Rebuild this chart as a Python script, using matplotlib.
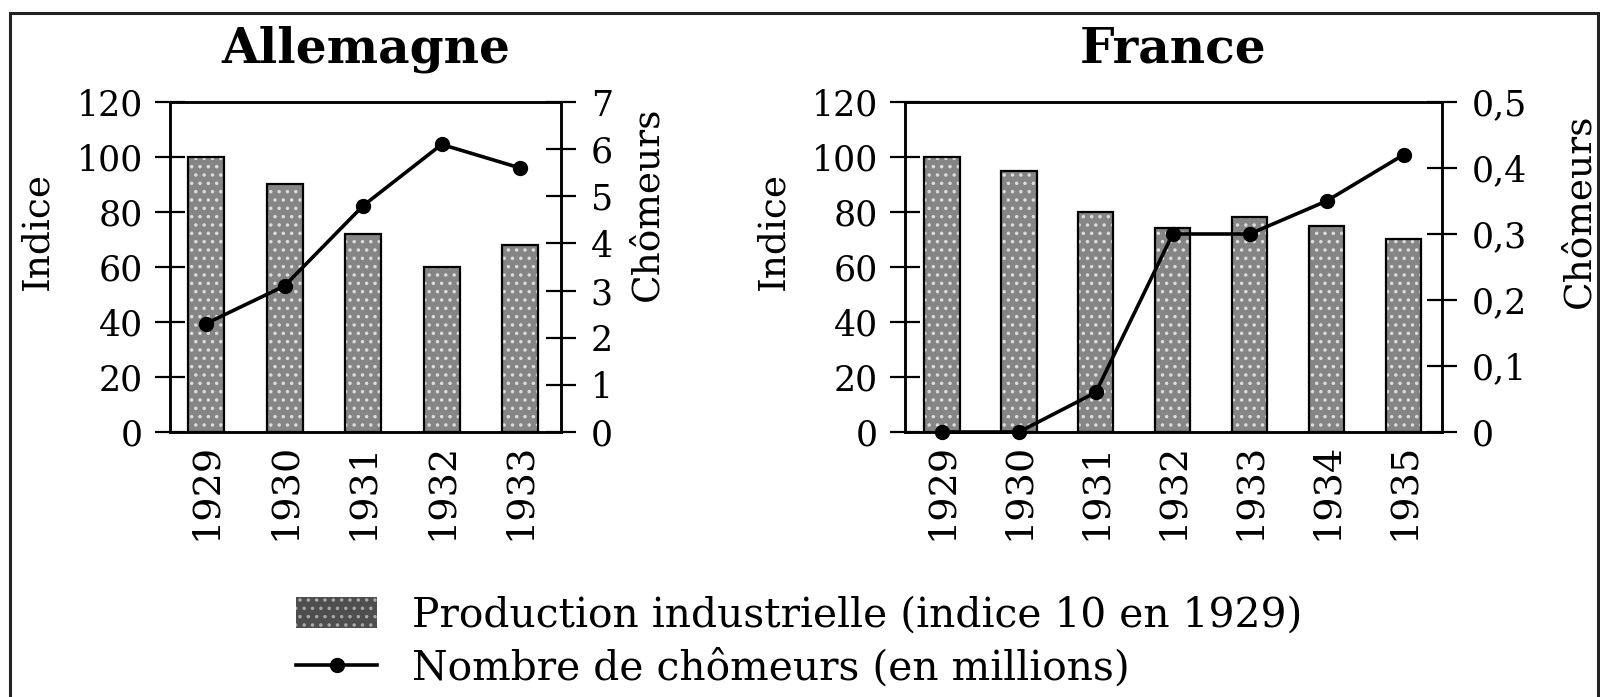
import matplotlib
matplotlib.use("Agg")
import matplotlib.pyplot as plt
from matplotlib.patches import Patch, Rectangle
from matplotlib.lines import Line2D
from matplotlib.ticker import FuncFormatter

# Data
de_years = ["1929", "1930", "1931", "1932", "1933"]
de_production = [100, 90, 72, 60, 68]
de_chomeurs = [2.3, 3.1, 4.8, 6.1, 5.6]

fr_years = ["1929", "1930", "1931", "1932", "1933", "1934", "1935"]
fr_production = [100, 95, 80, 74, 78, 75, 70]
fr_chomeurs = [0.0, 0.0, 0.06, 0.3, 0.3, 0.35, 0.42]

plt.rcParams['font.family'] = ['DejaVu Serif']
plt.rcParams['hatch.linewidth'] = 1.3

W, H = 1600, 697
fig = plt.figure(figsize=(W / 100, H / 100), dpi=100)


def px_axes(x0, x1, y0, y1):
    return [x0 / W, 1 - y1 / H, (x1 - x0) / W, (y1 - y0) / H]


def comma(v, pos):
    if v == 0:
        return "0"
    return ("%.1f" % v).replace(".", ",")


def panel(rect, title, years, prod, chom, ymax2, step2, fmt2, xlim, lab_pos):
    ax = fig.add_axes(rect)
    x = list(range(len(years)))
    # bars: grey fill, light speckle overlay, black outline
    ax.bar(x, prod, width=0.46, color="#858585", linewidth=0, zorder=2)
    ax.bar(x, prod, width=0.46, fill=False, hatch="..", edgecolor="#dcdcdc",
           linewidth=0, zorder=3)
    ax.bar(x, prod, width=0.46, fill=False, edgecolor="black", linewidth=1.6,
           zorder=4)
    ax.set_xlim(*xlim)
    ax.set_ylim(0, 120)
    ax.set_yticks(range(0, 121, 20))
    ax.set_xticks(x)
    ax.set_xticklabels(years, rotation=90, fontsize=27.5)
    ax.tick_params(axis="x", length=0, pad=8)
    ax.tick_params(axis="y", direction="inout", length=21, width=1.6,
                   labelsize=25, pad=9)
    ax.set_ylabel("Indice", fontsize=27)
    ax.yaxis.set_label_coords(lab_pos[0], 0.61)

    ax2 = ax.twinx()
    ax2.plot(x, chom, color="black", lw=2.6, marker="o", markersize=10,
             clip_on=False, zorder=5)
    ax2.set_ylim(0, ymax2)
    n = int(round(ymax2 / step2))
    ax2.set_yticks([i * step2 for i in range(n + 1)])
    ax2.yaxis.set_major_formatter(FuncFormatter(fmt2))
    ax2.tick_params(axis="y", direction="inout", length=21, width=1.6,
                    labelsize=25, pad=11)
    ax2.set_ylabel("Chômeurs", fontsize=27)
    ax2.yaxis.set_label_coords(lab_pos[1], lab_pos[2])

    for a in (ax, ax2):
        for s in a.spines.values():
            s.set_linewidth(1.8)
    ax.text(0.5, 1.16, title, transform=ax.transAxes, ha="center",
            va="center", fontsize=35, fontweight="bold")
    return ax, ax2


panel(px_axes(170, 561, 102, 432), "Allemagne", de_years, de_production,
      de_chomeurs, 7, 1, lambda v, p: "%d" % v, (-0.46, 4.52),
      (-0.294, 1.176, 0.69))
panel(px_axes(905, 1442, 102, 432), "France", fr_years, fr_production,
      fr_chomeurs, 0.5, 0.1, comma, (-0.48, 6.5),
      (-0.212, 1.222, 0.67))

# legend below the panels
handles = [
    Patch(facecolor="#4e4e4e", edgecolor="#a8a8a8", hatch="..", linewidth=0),
    Line2D([0], [0], color="black", lw=2.6, marker="o", markersize=10),
]
labels = ["Production industrielle (indice 10 en 1929)",
          "Nombre de chômeurs (en millions)"]
fig.legend(handles, labels, loc="upper left",
           bbox_to_anchor=(296 / W, 1 - 596 / H), frameon=False,
           fontsize=29.3, handlelength=2.0, handleheight=0.8,
           handletextpad=0.85, labelspacing=0.32, borderpad=0,
           borderaxespad=0)

# outer frame of the figure
fig.patches.append(Rectangle((10 / W, -0.05), (1598 - 10) / W,
                             1.05 - 13 / H, transform=fig.transFigure,
                             fill=False, edgecolor="#222222", linewidth=2.2))

fig.savefig("out.png", dpi=100)
